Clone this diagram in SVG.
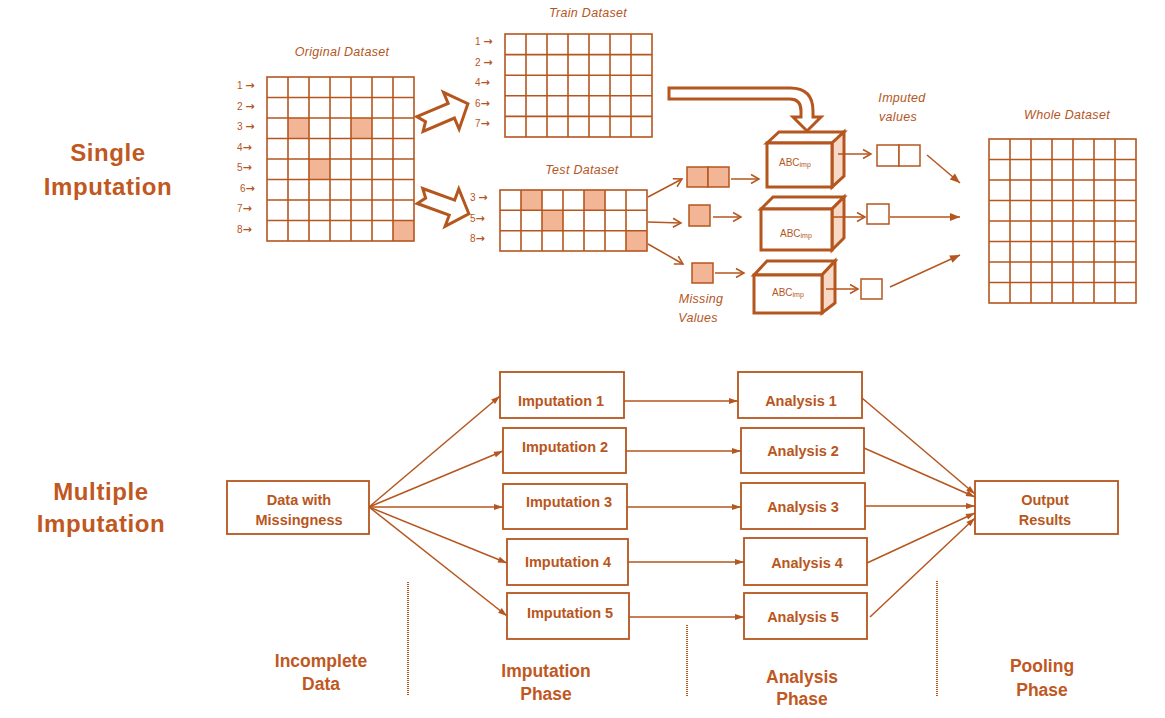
<svg xmlns="http://www.w3.org/2000/svg" width="1165" height="718" viewBox="0 0 1165 718">
<defs>
<style>
.g{fill:none;stroke:#B5561E;stroke-width:1.6}
.cell{fill:#F2B596;stroke:none}
.ln{fill:none;stroke:#B5561E;stroke-width:1.5}
.thk{fill:#fff;stroke:#B5561E;stroke-width:3;stroke-linejoin:miter}
.side{fill:#F8D8C6;stroke:#B5561E;stroke-width:3;stroke-linejoin:miter}
.mb{fill:#F2B596;stroke:#B5561E;stroke-width:1.5}
.ib{fill:#fff;stroke:#B5561E;stroke-width:1.5}
.box{fill:#fff;stroke:#B5561E;stroke-width:1.8}
.it{font-family:"Liberation Sans",Arial,sans-serif;font-style:italic;font-size:12.5px;fill:#B5561E;text-anchor:middle;letter-spacing:0.3px}
.rl{font-family:"Liberation Sans","DejaVu Sans",sans-serif;font-size:10px;fill:#B5561E}
.ar{font-family:"DejaVu Sans",sans-serif;font-size:11px;font-weight:bold}
.abc{font-family:"Liberation Sans",Arial,sans-serif;font-size:10px;fill:#B5561E}
.sub{font-size:7px}
.h{font-family:"Liberation Sans",Arial,sans-serif;font-weight:bold;font-size:24px;fill:#C0581F;text-anchor:middle;letter-spacing:0.6px}
.bt{font-family:"Liberation Sans",Arial,sans-serif;font-weight:bold;font-size:14.5px;fill:#B9561C;text-anchor:middle}
.ph{font-family:"Liberation Sans",Arial,sans-serif;font-weight:bold;font-size:17.5px;fill:#C0581F;text-anchor:middle}
.dot{fill:none;stroke:#B5561E;stroke-width:2;stroke-dasharray:1 1}
</style>
<marker id="arrO" markerUnits="userSpaceOnUse" markerWidth="10" markerHeight="10" refX="8" refY="4.5" orient="auto" overflow="visible">
<path d="M0,0 L8,4.5 L0,9" fill="none" stroke="#B5561E" stroke-width="1.5"/>
</marker>
<marker id="arrF" markerUnits="userSpaceOnUse" markerWidth="10" markerHeight="8" refX="10" refY="4" orient="auto" overflow="visible">
<path d="M0,0 L10,4 L0,8 z" fill="#B5561E"/>
</marker>
<marker id="arrS" markerUnits="userSpaceOnUse" markerWidth="9" markerHeight="7" refX="9" refY="3" orient="auto" overflow="visible">
<path d="M0,0 L9,3 L0,6 z" fill="#B5561E"/>
</marker>
</defs>
<rect width="1165" height="718" fill="#fff"/>

<text class="h" x="108" y="161">Single</text>
<text class="h" x="108" y="195">Imputation</text>
<text class="h" x="101" y="500">Multiple</text>
<text class="h" x="101" y="532">Imputation</text>

<g id="original-dataset">
<text class="it" x="342" y="56">Original Dataset</text>
<rect class="cell" x="288" y="118" width="21" height="20.5"/>
<rect class="cell" x="351" y="118" width="21" height="20.5"/>
<rect class="cell" x="309" y="159" width="21" height="20.5"/>
<rect class="cell" x="393" y="220.5" width="21" height="20.5"/>
<rect class="g" x="267" y="77" width="147" height="164"/>
<path class="g" d="M288,77V241M309,77V241M330,77V241M351,77V241M372,77V241M393,77V241M267,97.5H414M267,118H414M267,138.5H414M267,159H414M267,179.5H414M267,200H414M267,220.5H414"/>
<text class="rl" x="237" y="89">1 <tspan class="ar">→</tspan></text>
<text class="rl" x="237" y="109.5">2 <tspan class="ar">→</tspan></text>
<text class="rl" x="237" y="130">3 <tspan class="ar">→</tspan></text>
<text class="rl" x="237" y="150.5">4<tspan class="ar">→</tspan></text>
<text class="rl" x="237" y="171">5<tspan class="ar">→</tspan></text>
<text class="rl" x="240" y="191.5">6<tspan class="ar">→</tspan></text>
<text class="rl" x="237" y="212">7<tspan class="ar">→</tspan></text>
<text class="rl" x="237" y="232.5">8<tspan class="ar">→</tspan></text>
</g>

<g id="split-arrow-train">
<polygon class="thk" transform="translate(420,124) rotate(-23)" points="0,-8 34,-8 34,-20 52,0 34,20 34,8 0,8 6,0"/>
</g>
<g id="split-arrow-test">
<polygon class="thk" transform="translate(420,196) rotate(20)" points="0,-8 34,-8 34,-20 52,0 34,20 34,8 0,8 6,0"/>
</g>

<g id="train-dataset">
<text class="it" x="588" y="17">Train Dataset</text>
<rect class="g" x="505" y="34" width="147" height="103"/>
<path class="g" d="M526,34V137M547,34V137M568,34V137M589,34V137M610,34V137M631,34V137M505,54.6H652M505,75.2H652M505,95.8H652M505,116.4H652"/>
<text class="rl" x="475" y="45">1 <tspan class="ar">→</tspan></text>
<text class="rl" x="475" y="65.5">2 <tspan class="ar">→</tspan></text>
<text class="rl" x="475" y="86">4<tspan class="ar">→</tspan></text>
<text class="rl" x="475" y="107">6<tspan class="ar">→</tspan></text>
<text class="rl" x="475" y="127">7<tspan class="ar">→</tspan></text>
</g>

<g id="test-dataset">
<text class="it" x="582" y="174">Test Dataset</text>
<rect class="cell" x="521" y="190" width="21" height="20.3"/>
<rect class="cell" x="584" y="190" width="21" height="20.3"/>
<rect class="cell" x="542" y="210.3" width="21" height="20.4"/>
<rect class="cell" x="626" y="230.7" width="21" height="20.3"/>
<rect class="g" x="500" y="190" width="147" height="61"/>
<path class="g" d="M521,190V251M542,190V251M563,190V251M584,190V251M605,190V251M626,190V251M500,210.3H647M500,230.7H647"/>
<text class="rl" x="470" y="201">3 <tspan class="ar">→</tspan></text>
<text class="rl" x="470" y="221.5">5<tspan class="ar">→</tspan></text>
<text class="rl" x="470" y="242">8<tspan class="ar">→</tspan></text>
</g>

<g id="train-to-model-arrow">
<path class="thk" d="M669,88 L790,88 Q813,88 813,111 L813,117 L821,117 L807,131 L793,117 L801,117 L801,111 Q801,99 790,99 L669,99 Z"/>
</g>

<g id="missing-values">
<rect class="mb" x="687" y="167" width="21" height="20"/>
<rect class="mb" x="708" y="167" width="21" height="20"/>
<rect class="mb" x="689" y="205" width="21" height="21"/>
<rect class="mb" x="692" y="263" width="21" height="20"/>
<text class="it" x="701" y="303">Missing</text>
<text class="it" x="698" y="322">Values</text>
</g>

<g id="abc-imp-1">
<polygon class="thk" points="767,143 779,132 844,132 832,143"/>
<polygon class="side" points="832,143 844,132 844,176 832,187"/>
<rect class="thk" x="767" y="143" width="65" height="44"/>
<text class="abc" x="779" y="166">ABC<tspan class="sub" dy="1">imp</tspan></text>
</g>
<g id="abc-imp-2">
<polygon class="thk" points="761,209 773,197 844,197 832,209"/>
<polygon class="side" points="832,209 844,197 844,238 832,250"/>
<rect class="thk" x="761" y="209" width="71" height="41"/>
<text class="abc" x="780" y="237">ABC<tspan class="sub" dy="1">imp</tspan></text>
</g>
<g id="abc-imp-3">
<polygon class="thk" points="754,275 767,261 835,261 822,275"/>
<polygon class="side" points="822,275 835,261 835,303 822,313"/>
<rect class="thk" x="754" y="275" width="68" height="38"/>
<text class="abc" x="772" y="296">ABC<tspan class="sub" dy="1">imp</tspan></text>
</g>

<g id="imputed-values">
<text class="it" x="902" y="102">Imputed</text>
<text class="it" x="898" y="121">values</text>
<rect class="ib" x="877" y="145" width="22" height="21"/>
<rect class="ib" x="899" y="145" width="21" height="21"/>
<rect class="ib" x="867" y="204" width="22" height="20"/>
<rect class="ib" x="861" y="279" width="21" height="20"/>
</g>

<g id="whole-dataset">
<text class="it" x="1067" y="119">Whole Dataset</text>
<rect class="g" x="989" y="139" width="147" height="164"/>
<path class="g" d="M1010,139V303M1031,139V303M1052,139V303M1073,139V303M1094,139V303M1115,139V303M989,159.5H1136M989,180H1136M989,200.5H1136M989,221H1136M989,241.5H1136M989,262H1136M989,282.5H1136"/>
</g>

<g id="top-connectors">
<line class="ln" x1="648" y1="197" x2="682" y2="179" marker-end="url(#arrO)"/>
<line class="ln" x1="648" y1="222" x2="681" y2="223" marker-end="url(#arrO)"/>
<line class="ln" x1="648" y1="244" x2="683" y2="264" marker-end="url(#arrO)"/>
<line class="ln" x1="731" y1="179" x2="759" y2="179" marker-end="url(#arrO)"/>
<line class="ln" x1="713" y1="217" x2="741" y2="217" marker-end="url(#arrO)"/>
<line class="ln" x1="715" y1="273" x2="744" y2="273" marker-end="url(#arrO)"/>
<line class="ln" x1="838" y1="154" x2="871" y2="154" marker-end="url(#arrO)"/>
<line class="ln" x1="833" y1="217" x2="865" y2="217" marker-end="url(#arrO)"/>
<line class="ln" x1="826" y1="289" x2="858" y2="289" marker-end="url(#arrO)"/>
<line class="ln" x1="927" y1="155" x2="960" y2="183" marker-end="url(#arrF)"/>
<line class="ln" x1="890" y1="217" x2="960" y2="217" marker-end="url(#arrF)"/>
<line class="ln" x1="890" y1="287" x2="960" y2="255" marker-end="url(#arrF)"/>
</g>

<g id="data-with-missingness">
<rect class="box" x="227" y="481" width="142" height="53"/>
<text class="bt" x="299" y="505">Data with</text>
<text class="bt" x="299" y="525">Missingness</text>
</g>

<g id="imputation-1"><rect class="box" x="500" y="372" width="124" height="46"/><text class="bt" x="561" y="406">Imputation 1</text></g>
<g id="imputation-2"><rect class="box" x="503" y="428" width="123" height="45"/><text class="bt" x="565" y="452">Imputation 2</text></g>
<g id="imputation-3"><rect class="box" x="503" y="484" width="124" height="45"/><text class="bt" x="569" y="507">Imputation 3</text></g>
<g id="imputation-4"><rect class="box" x="507" y="539" width="121" height="46"/><text class="bt" x="568" y="567">Imputation 4</text></g>
<g id="imputation-5"><rect class="box" x="507" y="593" width="122" height="46"/><text class="bt" x="570" y="618">Imputation 5</text></g>

<g id="analysis-1"><rect class="box" x="738" y="372" width="124" height="46"/><text class="bt" x="801" y="406">Analysis 1</text></g>
<g id="analysis-2"><rect class="box" x="741" y="428" width="123" height="45"/><text class="bt" x="803" y="456">Analysis 2</text></g>
<g id="analysis-3"><rect class="box" x="741" y="483" width="124" height="46"/><text class="bt" x="803" y="512">Analysis 3</text></g>
<g id="analysis-4"><rect class="box" x="744" y="538" width="123" height="47"/><text class="bt" x="807" y="568">Analysis 4</text></g>
<g id="analysis-5"><rect class="box" x="744" y="593" width="123" height="46"/><text class="bt" x="803" y="622">Analysis 5</text></g>

<g id="output-results">
<rect class="box" x="975" y="481" width="143" height="53"/>
<text class="bt" x="1045" y="505">Output</text>
<text class="bt" x="1045" y="525">Results</text>
</g>

<g id="bottom-connectors">
<line class="ln" x1="369" y1="507" x2="500" y2="396" marker-end="url(#arrS)"/>
<line class="ln" x1="369" y1="507" x2="503" y2="451" marker-end="url(#arrS)"/>
<line class="ln" x1="369" y1="507" x2="503" y2="507" marker-end="url(#arrS)"/>
<line class="ln" x1="369" y1="507" x2="507" y2="563" marker-end="url(#arrS)"/>
<line class="ln" x1="369" y1="507" x2="507" y2="616" marker-end="url(#arrS)"/>
<line class="ln" x1="624" y1="401" x2="738" y2="401" marker-end="url(#arrS)"/>
<line class="ln" x1="626" y1="451" x2="741" y2="451" marker-end="url(#arrS)"/>
<line class="ln" x1="627" y1="507" x2="741" y2="507" marker-end="url(#arrS)"/>
<line class="ln" x1="628" y1="562" x2="744" y2="562" marker-end="url(#arrS)"/>
<line class="ln" x1="629" y1="617" x2="744" y2="617" marker-end="url(#arrS)"/>
<line class="ln" x1="862" y1="398" x2="975" y2="494" marker-end="url(#arrS)"/>
<line class="ln" x1="864" y1="448" x2="975" y2="497" marker-end="url(#arrS)"/>
<line class="ln" x1="865" y1="506" x2="975" y2="506" marker-end="url(#arrS)"/>
<line class="ln" x1="867" y1="563" x2="975" y2="513" marker-end="url(#arrS)"/>
<line class="ln" x1="870" y1="617" x2="975" y2="518" marker-end="url(#arrS)"/>
</g>

<g id="phase-dividers">
<line class="dot" x1="408" y1="582" x2="408" y2="696"/>
<line class="dot" x1="687" y1="625" x2="687" y2="697"/>
<line class="dot" x1="937" y1="581" x2="937" y2="696"/>
</g>

<g id="phase-labels">
<text class="ph" x="321" y="667">Incomplete</text>
<text class="ph" x="321" y="690">Data</text>
<text class="ph" x="546" y="677">Imputation</text>
<text class="ph" x="546" y="700">Phase</text>
<text class="ph" x="802" y="683">Analysis</text>
<text class="ph" x="802" y="705">Phase</text>
<text class="ph" x="1042" y="672">Pooling</text>
<text class="ph" x="1042" y="696">Phase</text>
</g>
</svg>
